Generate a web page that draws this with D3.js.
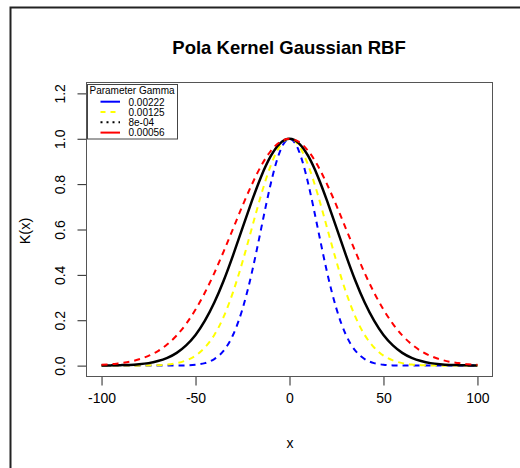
<!DOCTYPE html>
<html>
<head>
<meta charset="utf-8">
<script src="https://cdn.jsdelivr.net/npm/d3@7"></script>
<style>
  body { margin: 0; background: #fff; }
  svg text { font-family: "Liberation Sans", Arial, sans-serif; fill: #000; }
</style>
</head>
<body>
<div id="chart"></div>
<script>
// x positions read along the axis
const xs = [-100,-95,-90,-85,-80,-75,-70,-65,-60,-55,-50,-45,-40,-35,-30,-25,-20,-15,-10,-5,0,
            5,10,15,20,25,30,35,40,45,50,55,60,65,70,75,80,85,90,95,100];

// K(x), one array per gamma
const kBlue = [0,0,0,0,0,0,0,0,0,0.001,0.004,0.011,0.029,0.066,0.136,0.250,0.411,0.607,0.801,0.946,1,
               0.946,0.801,0.607,0.411,0.250,0.136,0.066,0.029,0.011,0.004,0.001,0,0,0,0,0,0,0,0,0];
const kYellow = [0,0,0,0,0,0.001,0.002,0.005,0.011,0.023,0.044,0.080,0.135,0.216,0.325,0.458,0.607,0.755,0.882,0.969,1,
                 0.969,0.882,0.755,0.607,0.458,0.325,0.216,0.135,0.080,0.044,0.023,0.011,0.005,0.002,0.001,0,0,0,0,0];
const kBlack = [0,0.001,0.002,0.003,0.006,0.011,0.020,0.034,0.056,0.089,0.135,0.198,0.278,0.375,0.487,0.607,0.726,0.835,0.923,0.980,1,
                0.980,0.923,0.835,0.726,0.607,0.487,0.375,0.278,0.198,0.135,0.089,0.056,0.034,0.020,0.011,0.006,0.003,0.002,0.001,0];
const kRed = [0.004,0.006,0.011,0.017,0.028,0.043,0.064,0.094,0.133,0.184,0.247,0.322,0.408,0.504,0.604,0.705,0.799,0.882,0.946,0.986,1,
              0.986,0.946,0.882,0.799,0.705,0.604,0.504,0.408,0.322,0.247,0.184,0.133,0.094,0.064,0.043,0.028,0.017,0.011,0.006,0.004];

const gammaLabels = ["0.00222", "0.00125", "8e-04", "0.00056"];
const xTicks = [-100, -50, 0, 50, 100];
const yTicks = [0, 0.2, 0.4, 0.6, 0.8, 1.0, 1.2];

const W = 520, H = 468;
const box = { left: 86.5, right: 492.5, top: 82.5, bottom: 376.5 };

const svg = d3.select('#chart')
    .append('svg')
    .attr('width', W)
    .attr('height', H);

//Outer frame (only top and left edges are visible)
svg.append('path')
    .attr('d', 'M10.5,' + H + 'V7.5H' + W)
    .attr('fill', 'none')
    .attr('stroke', '#222')
    .attr('stroke-width', 2);

//Scales, padded 4% like R
const x = d3.scaleLinear()
    .domain([-108, 108])
    .range([box.left, box.right]);
const y = d3.scaleLinear()
    .domain([-0.048, 1.248])
    .range([box.bottom, box.top]);

//X axis
svg.append('g')
    .attr('transform', 'translate(0,' + box.bottom + ')')
    .call(d3.axisBottom(x).tickValues(xTicks).tickSize(9).tickPadding(8).tickFormat(d => String(d)))
    .call(g => g.select('.domain').remove())
    .call(g => g.selectAll('line').attr('stroke', '#222'))
    .selectAll('text')
        .style('font-size', '14px')
        .attr('dy', '0.71em');

//Y axis, rotated labels
svg.append('g')
    .attr('transform', 'translate(' + box.left + ',0)')
    .call(d3.axisLeft(y).tickValues(yTicks).tickSize(9).tickFormat(d3.format('.1f')))
    .call(g => g.select('.domain').remove())
    .call(g => g.selectAll('line').attr('stroke', '#222'))
    .selectAll('text')
        .style('font-size', '14px')
        .attr('x', null)
        .attr('dy', null)
        .attr('text-anchor', 'middle')
        .attr('dominant-baseline', 'central')
        .attr('transform', 'translate(-27,0) rotate(-90)');

//Plot box
svg.append('rect')
    .attr('x', box.left)
    .attr('y', box.top)
    .attr('width', box.right - box.left)
    .attr('height', box.bottom - box.top)
    .attr('fill', 'none')
    .attr('stroke', '#555')
    .attr('stroke-width', 1);

//Curves
const series = [
    { vals: kBlue,   color: '#0000ff', dash: '6,5', width: 2 },
    { vals: kYellow, color: '#ffff00', dash: '6,5', width: 2 },
    { vals: kBlack,  color: '#000000', dash: null,  width: 2.5 },
    { vals: kRed,    color: '#ff0000', dash: '6,5', width: 2 }
];

const line = d3.line()
    .x(d => x(d[0]))
    .y(d => y(d[1]))
    .curve(d3.curveNatural);

svg.selectAll('.curve')
    .data(series)
    .join('path')
    .attr('class', 'curve')
    .attr('d', s => line(xs.map((v, i) => [v, s.vals[i]])))
    .attr('fill', 'none')
    .attr('stroke', s => s.color)
    .attr('stroke-width', s => s.width)
    .attr('stroke-dasharray', s => s.dash);

//Titles
svg.append('text')
    .text('Pola Kernel Gaussian RBF')
    .attr('x', 289)
    .attr('y', 47)
    .attr('text-anchor', 'middle')
    .attr('dominant-baseline', 'central')
    .style('font-size', '18.5px')
    .style('font-weight', 'bold');

svg.append('text')
    .text('x')
    .attr('x', 290)
    .attr('y', 443)
    .attr('text-anchor', 'middle')
    .attr('dominant-baseline', 'central')
    .style('font-size', '14px');

svg.append('text')
    .text('K(x)')
    .attr('text-anchor', 'middle')
    .attr('dominant-baseline', 'central')
    .attr('transform', 'translate(24.5,231) rotate(-90)')
    .style('font-size', '14.5px');

//Legend (styles as drawn in the original legend)
const legendStyles = [
    { color: '#0000ff', dash: null },
    { color: '#ffff00', dash: '5,5' },
    { color: '#000000', dash: '2,4' },
    { color: '#ff0000', dash: null }
];

const legend = svg.append('g');
legend.append('rect')
    .attr('x', 87.5)
    .attr('y', 84.5)
    .attr('width', 90)
    .attr('height', 54.5)
    .attr('fill', '#fff')
    .attr('stroke', '#444')
    .attr('stroke-width', 1);

legend.append('text')
    .text('Parameter Gamma')
    .attr('x', 89.5)
    .attr('y', 90.5)
    .attr('dominant-baseline', 'central')
    .style('font-size', '10px');

legend.selectAll('.lgLine')
    .data(legendStyles)
    .join('line')
    .attr('class', 'lgLine')
    .attr('x1', 100.5)
    .attr('x2', 120)
    .attr('y1', (d, i) => 101.7 + i * 10.3)
    .attr('y2', (d, i) => 101.7 + i * 10.3)
    .attr('stroke', d => d.color)
    .attr('stroke-width', 2)
    .attr('stroke-dasharray', d => d.dash);

legend.selectAll('.lgText')
    .data(gammaLabels)
    .join('text')
    .attr('class', 'lgText')
    .text(d => d)
    .attr('x', 128.5)
    .attr('y', (d, i) => 102 + i * 10.3)
    .attr('dominant-baseline', 'central')
    .style('font-size', '10px');
</script>
</body>
</html>
